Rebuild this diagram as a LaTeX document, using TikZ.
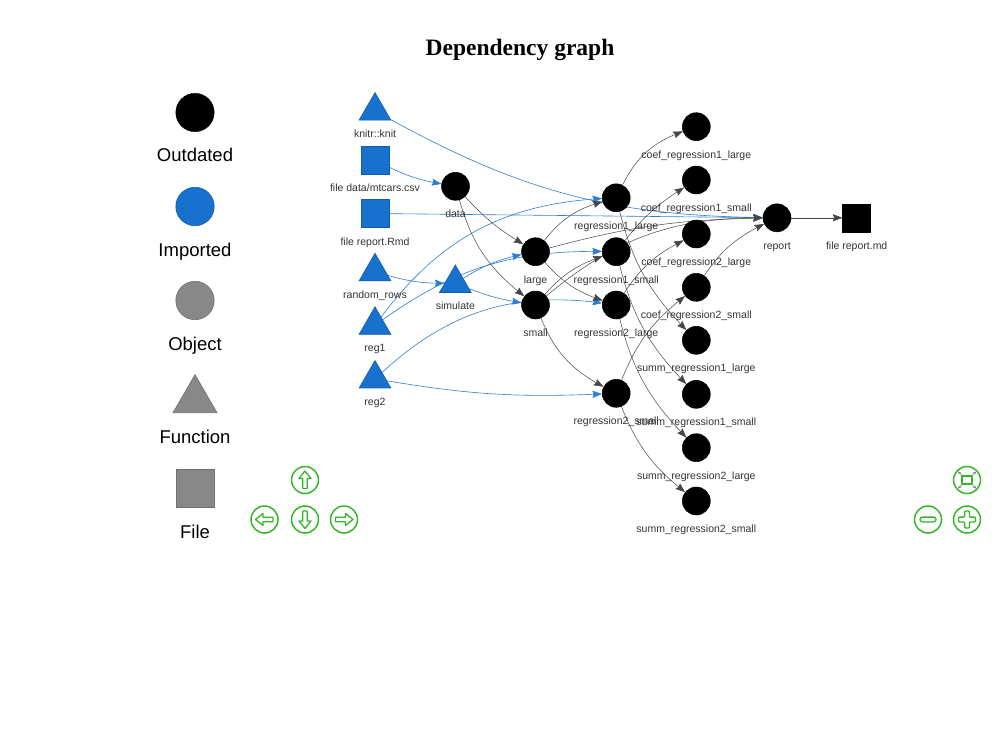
\documentclass[tikz,border=0pt]{standalone}
\usepackage{fontspec}
\setmainfont{Liberation Sans}
\newfontfamily\titlefont{Liberation Serif}
\usetikzlibrary{shapes.geometric,arrows.meta,backgrounds,bending}
\definecolor{vblue}{RGB}{23,113,205}
\definecolor{vblueb}{RGB}{16,92,175}
\definecolor{iedgec}{RGB}{45,125,210}
\definecolor{oedgec}{RGB}{70,70,70}
\definecolor{lgray}{RGB}{136,136,136}
\definecolor{lgrayb}{RGB}{112,112,112}
\definecolor{lblgray}{RGB}{52,52,52}
\definecolor{navgreen}{RGB}{52,182,40}
\begin{document}
\begin{tikzpicture}[x=1pt,y=-1pt,
  outd/.style={circle,fill=black,draw=black,line width=0.5pt,minimum size=28pt,inner sep=0pt},
  outdfile/.style={rectangle,fill=black,draw=black,line width=0.5pt,minimum size=28pt,inner sep=0pt},
  fun/.style={regular polygon,regular polygon sides=3,fill=vblue,draw=vblueb,line width=0.6pt,minimum size=36.6pt,inner sep=0pt},
  fil/.style={rectangle,fill=vblue,draw=vblueb,line width=0.6pt,minimum size=28pt,inner sep=0pt},
  lbl/.style={font=\fontsize{10.5}{12}\selectfont,text=lblgray,inner sep=0pt,text height=8pt,text depth=2pt,label distance=9pt},
  leglbl/.style={font=\fontsize{18.5}{21}\selectfont,text=black,inner sep=0pt,text height=14pt,text depth=4pt,label distance=15.8pt},
  iedge/.style={draw=iedgec,line width=0.6pt,-{Stealth[length=9.5pt,width=7pt,inset=1.2pt,bend]}},
  oedge/.style={draw=oedgec,line width=0.5pt,-{Stealth[length=9.5pt,width=7pt,inset=1.2pt,bend]}},
  navbtn/.style={circle,draw=navgreen,fill=white,line width=1.5pt,minimum size=27pt,inner sep=0pt},
  navicon/.style={draw=navgreen,line width=1.3pt,line join=round}
]
\useasboundingbox (0,0) rectangle (1000,744);

% title
\node[font=\titlefont\bfseries\fontsize{23.5}{26}\selectfont] (title) at (520,50) {Dependency graph};

% legend
\node[circle,fill=black,draw=black,minimum size=38.4pt,inner sep=0pt,label={[leglbl]below:Outdated}] (lgout) at (195,112.5) {};
\node[circle,fill=vblue,draw=vblueb,line width=0.6pt,minimum size=38.4pt,inner sep=0pt,label={[leglbl]below:Imported}] (lgimp) at (195,206.5) {};
\node[circle,fill=lgray,draw=lgrayb,line width=0.6pt,minimum size=38.4pt,inner sep=0pt,label={[leglbl]below:Object}] (lgobj) at (195,300.5) {};
\node[regular polygon,regular polygon sides=3,fill=lgray,draw=lgrayb,line width=0.6pt,minimum size=50.8pt,inner sep=0pt,label={[leglbl]below:Function}] (lgfun) at (195,400) {};
\node[rectangle,fill=lgray,draw=lgrayb,line width=0.6pt,minimum size=38.4pt,inner sep=0pt,label={[leglbl]below:File}] (lgfile) at (195,488.5) {};

% column 1
\node[fun,label={[lbl]below:knitr::knit}] (knit) at (375,110.9) {};
\node[fil,label={[lbl]below:file data/mtcars.csv}] (csv) at (375,160.3) {};
\node[fil,label={[lbl]below:file report.Rmd}] (rmd) at (375,213.5) {};
\node[fun,label={[lbl]below:random\_rows}] (rr) at (375,271.6) {};
\node[fun,label={[lbl]below:reg1}] (reg1) at (375,325.1) {};
\node[fun,label={[lbl]below:reg2}] (reg2) at (375,378.8) {};

% column 2
\node[outd,label={[lbl]below:data}] (data) at (455.5,186.3) {};
\node[fun,label={[lbl]below:simulate}] (sim) at (455.3,283.3) {};

% column 3
\node[outd,label={[lbl]below:large}] (large) at (535.5,251.7) {};
\node[outd,label={[lbl]below:small}] (small) at (535.5,305) {};

% column 4
\node[outd,label={[lbl]below:regression1\_large}] (r1l) at (616.2,197.8) {};
\node[outd,label={[lbl]below:regression1\_small}] (r1s) at (616.2,251.7) {};
\node[outd,label={[lbl]below:regression2\_large}] (r2l) at (616.2,305) {};
\node[outd,label={[lbl]below:regression2\_small}] (r2s) at (616.2,393.3) {};

% column 5
\node[outd,label={[lbl]below:coef\_regression1\_large}] (c1l) at (696.3,126.7) {};
\node[outd,label={[lbl]below:coef\_regression1\_small}] (c1s) at (696.3,180) {};
\node[outd,label={[lbl]below:coef\_regression2\_large}] (c2l) at (696.3,234) {};
\node[outd,label={[lbl]below:coef\_regression2\_small}] (c2s) at (696.3,287.3) {};
\node[outd,label={[lbl]below:summ\_regression1\_large}] (s1l) at (696.3,340.3) {};
\node[outd,label={[lbl]below:summ\_regression1\_small}] (s1s) at (696.3,394.3) {};
\node[outd,label={[lbl]below:summ\_regression2\_large}] (s2l) at (696.3,447.7) {};
\node[outd,label={[lbl]below:summ\_regression2\_small}] (s2s) at (696.3,501) {};

% column 6, 7
\node[outd,label={[lbl]below:report}] (report) at (777,217.8) {};
\node[outdfile,label={[lbl]below:file report.md}] (md) at (856.7,217.8) {};

\begin{pgfonlayer}{background}
\fill[white] (0,0) rectangle (1000,744);
% imported edges
\draw[iedge] (knit) to[bend right=14] (report);
\draw[iedge] (csv) to[bend right=8] (data);
\draw[iedge] (rmd) -- (report);
\draw[iedge] (rr) to[bend right=8] (sim);
\draw[iedge] (reg1) to[bend left=25] (r1l);
\draw[iedge] (reg1) to[bend left=18] (r1s);
\draw[iedge] (reg2) to[bend left=25] (r2l);
\draw[iedge] (reg2) to[bend right=6] (r2s);
\draw[iedge] (sim) to[bend left=10] (large);
\draw[iedge] (sim) to[bend right=6] (small);
% outdated edges
\draw[oedge] (data) to[bend right=8] (large);
\draw[oedge] (data) to[bend right=18] (small);
\draw[oedge] (large) to[bend left=18] (r1l);
\draw[oedge] (large) to[bend right=15] (r2l);
\draw[oedge] (large) to[bend left=7] (report);
\draw[oedge] (small) to[bend left=15] (r1s);
\draw[oedge] (small) to[bend left=20] (report);
\draw[oedge] (small) to[bend right=20] (r2s);
\draw[oedge] (r1l) to[bend left=22] (c1l);
\draw[oedge] (r1l) to[bend right=15] (s1l);
\draw[oedge] (r1s) to[bend left=10] (c1s);
\draw[oedge] (r1s) to[bend right=15] (s1s);
\draw[oedge] (r2l) to[bend left=15] (c2l);
\draw[oedge] (r2l) to[bend right=15] (s2l);
\draw[oedge] (r2s) to[bend left=15] (c2s);
\draw[oedge] (r2s) to[bend right=15] (s2s);
\draw[oedge] (c2s) to[bend left=15] (report);
\draw[oedge] (report) -- (md);
\end{pgfonlayer}

% navigation buttons
\node[navbtn] (navup) at (305,480) {};
\node[navbtn] (navleft) at (264.5,519.5) {};
\node[navbtn] (navdown) at (305,519.5) {};
\node[navbtn] (navright) at (344,519.5) {};
\node[navbtn] (navfit) at (967,480) {};
\node[navbtn] (navminus) at (928,519.5) {};
\node[navbtn] (navplus) at (967,519.5) {};

\foreach \nd/\ang in {navup/0,navleft/90,navdown/180,navright/-90}{
  \draw[navicon,shift={(\nd.center)},rotate=\ang]
    (0,-9) -- (6,-1.5) -- (2.3,-1.5) -- (2.3,8.5) -- (-2.3,8.5) -- (-2.3,-1.5) -- (-6,-1.5) -- cycle;
}
\draw[navicon,shift={(navminus.center)},rounded corners=2.3pt] (-8,-2.4) rectangle (8,2.4);
\draw[navicon,shift={(navplus.center)},rounded corners=1pt]
  (-2.4,-8.5) -- (2.4,-8.5) -- (2.4,-2.4) -- (8.5,-2.4) -- (8.5,2.4) -- (2.4,2.4) -- (2.4,8.5) -- (-2.4,8.5) -- (-2.4,2.4) -- (-8.5,2.4) -- (-8.5,-2.4) -- (-2.4,-2.4) -- cycle;
\draw[navicon,line width=1.5pt,shift={(navfit.center)}] (-5,-4) rectangle (5,4);
\foreach \sx/\sy in {1/1,1/-1,-1/1,-1/-1}{
  \draw[gray,line width=0.7pt,-{Stealth[length=3pt,width=3pt]},shift={(navfit.center)}] (\sx*5.5,\sy*5) -- (\sx*9,\sy*8.5);
}
\end{tikzpicture}
\end{document}
